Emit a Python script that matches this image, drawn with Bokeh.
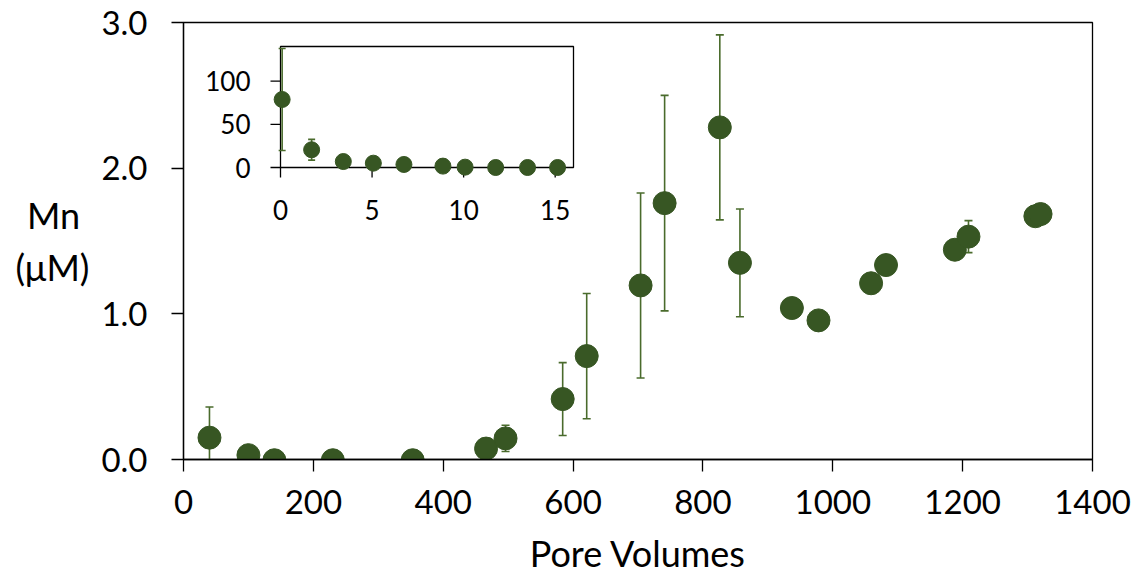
from bokeh.plotting import figure
from bokeh.models import Range1d, FixedTicker, PrintfTickFormatter
from bokeh.core.properties import value
from bokeh.embed import file_html
from bokeh.resources import INLINE

# Main panel: dissolved Mn (µM) against pore volumes
pore_volumes = [40, 100, 140, 230, 353, 466, 496, 584, 621, 704, 741, 826, 857,
                937, 978, 1059, 1082, 1188, 1209, 1312, 1320]
mn_uM = [0.15, 0.03, -0.005, -0.005, -0.005, 0.075, 0.145, 0.415, 0.71, 1.195,
         1.76, 2.28, 1.35, 1.04, 0.955, 1.21, 1.335, 1.44, 1.53, 1.67, 1.685]
mn_err = [0.21, 0, 0, 0, 0, 0, 0.09, 0.25, 0.43, 0.635, 0.74, 0.635, 0.37,
          0, 0, 0, 0, 0, 0.11, 0, 0]

# Inset: first pore volumes, Mn in µM
early_pv = [0.09, 1.70, 3.43, 5.07, 6.74, 8.87, 10.08, 11.75, 13.49, 15.13]
early_mn = [78.7, 20.5, 6.9, 5.0, 3.5, 1.6, 0.4, 0.0, 0.0, 0.0]
early_err = [59, 12, 0, 0, 0, 0, 0, 0, 0, 0]

x_ticks = [0, 200, 400, 600, 800, 1000, 1200, 1400]
y_ticks = [0, 1, 2, 3]
inset_x_ticks = [0, 5, 10, 15]
inset_y_ticks = [0, 50, 100]

FONT = "Lato"
MARK = "#375623"
ERR = "#4a6b2c"

W, H = 1133, 577
FL, FR, FT, FB = 183, 1092, 22, 459          # main frame edges (px)
IL, IR, IT, IB = 280, 573, 46, 167           # inset frame edges (px)
IX0, IX1, IY0, IY1 = 0, 16, 0, 140           # inset axis limits

p = figure(width=W, height=H, output_backend="svg", toolbar_location=None,
           x_range=Range1d(0, 1400), y_range=Range1d(0, 3),
           min_border_left=FL, min_border_right=W - FR,
           min_border_top=FT, min_border_bottom=H - FB)
p.background_fill_color = "white"
p.border_fill_color = "white"
p.outline_line_color = "black"
p.outline_line_width = 1.3
p.xgrid.visible = False
p.ygrid.visible = False

for ax in (p.xaxis[0], p.yaxis[0]):
    ax.axis_line_color = "black"
    ax.axis_line_width = 1.3
    ax.major_tick_line_color = "black"
    ax.major_tick_line_width = 1.3
    ax.major_tick_in = 0
    ax.major_tick_out = 12
    ax.minor_tick_line_color = None
    ax.major_label_text_font = FONT
    ax.major_label_text_font_size = "33px"
    ax.major_label_text_color = "black"
    ax.axis_label_text_font = FONT
    ax.axis_label_text_font_size = "36px"
    ax.axis_label_text_font_style = "normal"
    ax.axis_label_text_color = "black"

p.xaxis.ticker = FixedTicker(ticks=x_ticks)
p.yaxis.ticker = FixedTicker(ticks=y_ticks)
p.yaxis.formatter = PrintfTickFormatter(format="%.1f")
p.xaxis.major_label_standoff = 18
p.yaxis.major_label_standoff = 24

p.xaxis.axis_label = "Pore Volumes"
p.xaxis.axis_label_standoff = 14
# two-line horizontal title; a non-breaking space keeps "Mn" centred over the unit
p.yaxis.axis_label = "Mn\u00a0\n(\u03bcM)"
p.yaxis.axis_label_orientation = "horizontal"
p.yaxis.axis_label_standoff = 9
p.yaxis.axis_label_text_align = "center"

# error bars (main)
ex = [x for x, e in zip(pore_volumes, mn_err) if e > 0]
ey = [y for y, e in zip(mn_uM, mn_err) if e > 0]
ee = [e for e in mn_err if e > 0]
lo = [y - e for y, e in zip(ey, ee)]
hi = [y + e for y, e in zip(ey, ee)]
p.segment(x0=ex, y0=lo, x1=ex, y1=hi, line_color=ERR, line_width=1.6)
p.scatter(x=ex + ex, y=lo + hi, marker="dash", size=8, line_color=ERR, line_width=1.6)
p.scatter(x=pore_volumes, y=mn_uM, size=23, fill_color=MARK, line_color=MARK)

# Inset drawn in the same frame through its own ranges
sx = (IR - IL) / (IX1 - IX0)
sy = (IB - IT) / (IY1 - IY0)
p.extra_x_ranges = {"inset": Range1d(IX0 - (IL - FL) / sx, IX1 + (FR - IR) / sx)}
p.extra_y_ranges = {"inset": Range1d(IY0 - (FB - IB) / sy, IY1 + (IT - FT) / sy)}
kw = dict(x_range_name="inset", y_range_name="inset")

p.quad(left=[IX0], right=[IX1], bottom=[IY0], top=[IY1], fill_color="white",
       line_color="black", line_width=1.3, **kw)
tick_px = 10
p.segment(x0=inset_x_ticks, y0=[IY0] * len(inset_x_ticks), x1=inset_x_ticks,
          y1=[IY0 - tick_px / sy] * len(inset_x_ticks), line_color="black", line_width=1.3, **kw)
p.segment(x0=[IX0] * len(inset_y_ticks), y0=inset_y_ticks,
          x1=[IX0 - tick_px / sx] * len(inset_y_ticks), y1=inset_y_ticks,
          line_color="black", line_width=1.3, **kw)
p.text(x=inset_x_ticks, y=[IY0] * len(inset_x_ticks), text=[str(t) for t in inset_x_ticks],
       text_font=value(FONT), text_font_size="26px", text_color="black",
       text_align="center", text_baseline="middle", y_offset=42, **kw)
p.text(x=[IX0] * len(inset_y_ticks), y=inset_y_ticks, text=[str(t) for t in inset_y_ticks],
       text_font=value(FONT), text_font_size="26px", text_color="black",
       text_align="right", text_baseline="middle", x_offset=-30, **kw)

ix = [x for x, e in zip(early_pv, early_err) if e > 0]
iy = [y for y, e in zip(early_mn, early_err) if e > 0]
ie = [e for e in early_err if e > 0]
ilo = [y - e for y, e in zip(iy, ie)]
ihi = [y + e for y, e in zip(iy, ie)]
p.segment(x0=ix, y0=ilo, x1=ix, y1=ihi, line_color=ERR, line_width=1.6, **kw)
p.scatter(x=ix + ix, y=ilo + ihi, marker="dash", size=7, line_color=ERR, line_width=1.6, **kw)
p.scatter(x=early_pv, y=early_mn, size=16, fill_color=MARK, line_color=MARK, **kw)

open("out.html", "w").write(file_html(p, INLINE))
